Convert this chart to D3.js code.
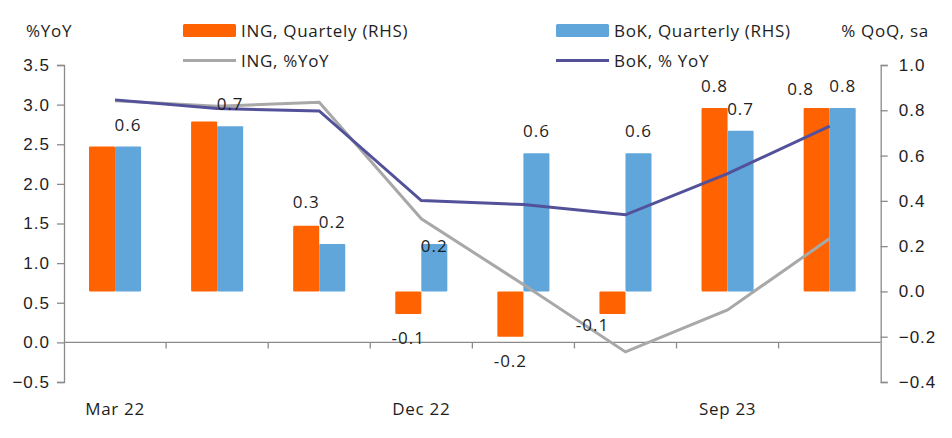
<!DOCTYPE html>
<html>
<head>
<meta charset="utf-8">
<script src="https://cdn.jsdelivr.net/npm/d3@7"></script>
<style>
  body { margin: 0; background: #fff; }
  svg { display: block; font-family: "Open Sans", sans-serif; }
</style>
</head>
<body>
<div id="chart"></div>
<script>
  // quarters, only every third one gets a label
  const quarters = ['Mar 22', 'Jun 22', 'Sep 22', 'Dec 22', 'Mar 23', 'Jun 23', 'Sep 23', 'Dec 23'];
  const shownQuarters = ['Mar 22', 'Dec 22', 'Sep 23'];

  // % QoQ sa (right axis)
  const ingQoQ = [0.64, 0.75, 0.29, -0.10, -0.20, -0.10, 0.81, 0.81];
  const bokQoQ = [0.64, 0.73, 0.21, 0.21, 0.61, 0.61, 0.71, 0.81];

  // % YoY (left axis)
  const ingYoY = [3.05, 2.98, 3.03, 1.56, 0.73, -0.12, 0.41, 1.31];
  const bokYoY = [3.06, 2.95, 2.92, 1.79, 1.74, 1.61, 2.13, 2.73];

  const leftTicks = [-0.5, 0, 0.5, 1.0, 1.5, 2.0, 2.5, 3.0, 3.5];
  const rightTicks = [-0.4, -0.2, 0, 0.2, 0.4, 0.6, 0.8, 1.0];

  // data labels kept on the chart (series, quarter index, text)
  const labelSeries = ['BoK', 'BoK', 'ING', 'BoK', 'ING', 'BoK', 'ING', 'BoK', 'ING', 'BoK', 'ING', 'BoK', 'ING', 'BoK'];
  const labelIndex  = [0, 1, 2, 2, 3, 3, 4, 4, 5, 5, 6, 6, 7, 7];
  const labelText   = ['0.6', '0.7', '0.3', '0.2', '-0.1', '0.2', '-0.2', '0.6', '-0.1', '0.6', '0.8', '0.7', '0.8', '0.8'];

  const width = 952
      , height = 438
      , margin = { top: 65, right: 72, bottom: 56, left: 64 }
      , orange = '#ff6200'
      , blue = '#60a6da'
      , purple = '#52519a'
      , grey = '#a8a8a8'
      , axisColor = '#8a8a8a'
      , textColor = '#1e1e1e'
      , fontSize = '17px'
      , spacing = '0.7px'
      ;

  const svg = d3.select('#chart')
    .append('svg')
    .attr('width', width)
    .attr('height', height);

  const x = d3.scaleBand()
    .domain(quarters)
    .range([margin.left, width - margin.right + 0.7])
    .paddingInner(0.49)
    .paddingOuter(0.245);

  const xSeries = d3.scaleBand()
    .domain(['ING', 'BoK'])
    .range([0, x.bandwidth()]);

  const yL = d3.scaleLinear().domain([-0.5, 3.5]).range([height - margin.bottom, margin.top]);
  const yR = d3.scaleLinear().domain([-0.4, 1.0]).range([height - margin.bottom, margin.top]);

  const rightX = width - margin.right + 0.7;

  // bars
  const barData = [];
  quarters.forEach((q, i) => {
    barData.push({ q, s: 'ING', v: ingQoQ[i] });
    barData.push({ q, s: 'BoK', v: bokQoQ[i] });
  });

  svg.append('g')
    .selectAll('rect')
    .data(barData)
    .join('rect')
      .attr('x', d => x(d.q) + xSeries(d.s))
      .attr('width', xSeries.bandwidth())
      .attr('y', d => yR(Math.max(0, d.v)))
      .attr('height', d => Math.abs(yR(d.v) - yR(0)))
      .attr('rx', 1)
      .attr('fill', d => d.s === 'ING' ? orange : blue);

  // axes
  const leftAxis = svg.append('g')
    .attr('transform', `translate(${margin.left},0)`)
    .call(d3.axisLeft(yL).tickValues(leftTicks).tickFormat(d3.format('.1f')).tickSize(7).tickPadding(7));

  const rightAxis = svg.append('g')
    .attr('transform', `translate(${rightX},0)`)
    .call(d3.axisRight(yR).tickValues(rightTicks).tickFormat(d3.format('.1f')).tickSize(7).tickPadding(11));

  [leftAxis, rightAxis].forEach(g => {
    g.select('.domain').attr('stroke', axisColor).attr('stroke-width', 1.3);
    g.selectAll('.tick line').attr('stroke', axisColor).attr('stroke-width', 1.3);
    g.selectAll('.tick text')
      .attr('fill', textColor)
      .style('font-size', fontSize)
      .style('letter-spacing', '1px');
  });

  // category axis sits on the left zero line
  const xAxisY = yL(0);
  svg.append('line')
    .attr('x1', margin.left).attr('x2', rightX)
    .attr('y1', xAxisY).attr('y2', xAxisY)
    .attr('stroke', axisColor).attr('stroke-width', 1.3);

  svg.append('g')
    .selectAll('line')
    .data(quarters.slice(1))
    .join('line')
      .attr('x1', d => x(d) - x.step() * x.paddingInner() / 2)
      .attr('x2', d => x(d) - x.step() * x.paddingInner() / 2)
      .attr('y1', xAxisY)
      .attr('y2', xAxisY + 6)
      .attr('stroke', axisColor).attr('stroke-width', 1.3);

  svg.append('g')
    .selectAll('text')
    .data(shownQuarters)
    .join('text')
      .attr('x', d => x(d) + x.bandwidth() / 2)
      .attr('y', 415)
      .attr('text-anchor', 'middle')
      .attr('fill', textColor)
      .style('font-size', fontSize)
      .style('letter-spacing', spacing)
      .text(d => d);

  // lines
  const lineL = d3.line()
    .x((d, i) => x(quarters[i]) + x.bandwidth() / 2)
    .y(d => yL(d));

  svg.append('path')
    .datum(ingYoY)
    .attr('d', lineL)
    .attr('fill', 'none')
    .attr('stroke', grey)
    .attr('stroke-width', 3);

  svg.append('path')
    .datum(bokYoY)
    .attr('d', lineL)
    .attr('fill', 'none')
    .attr('stroke', purple)
    .attr('stroke-width', 3);

  // data labels, a few were nudged by hand in the original
  const nudge = {
    '2-ING': [0, -2],
    '3-BoK': [0, 24],
    '5-ING': [-20, -13],
    '7-ING': [-16, 3]
  };

  svg.append('g')
    .selectAll('text')
    .data(labelText.map((t, k) => ({ t, s: labelSeries[k], i: labelIndex[k] })))
    .join('text')
      .attr('x', d => {
        const n = nudge[`${d.i}-${d.s}`] || [0, 0];
        return x(quarters[d.i]) + xSeries(d.s) + xSeries.bandwidth() / 2 + n[0];
      })
      .attr('y', d => {
        const n = nudge[`${d.i}-${d.s}`] || [0, 0];
        const v = (d.s === 'ING' ? ingQoQ : bokQoQ)[d.i];
        return (v >= 0 ? yR(v) - 16 : yR(v) + 30) + n[1];
      })
      .attr('text-anchor', 'middle')
      .attr('fill', textColor)
      .style('font-size', fontSize)
      .style('letter-spacing', '1px')
      .text(d => d.t);

  // axis titles
  svg.append('text')
    .attr('x', 26).attr('y', 37)
    .attr('fill', textColor)
    .style('font-size', fontSize)
    .style('letter-spacing', spacing)
    .text('%YoY');

  svg.append('text')
    .attr('x', 929).attr('y', 37)
    .attr('text-anchor', 'end')
    .attr('fill', textColor)
    .style('font-size', fontSize)
    .style('letter-spacing', spacing)
    .text('% QoQ, sa');

  // legend
  const legend = svg.append('g')
    .style('font-size', fontSize)
    .style('letter-spacing', spacing);
  const legendItems = [
    { name: 'ING, Quartely (RHS)', type: 'bar', color: orange, lx: 183, ly: 31 },
    { name: 'ING, %YoY', type: 'line', color: grey, lx: 183, ly: 60.5 },
    { name: 'BoK, Quarterly (RHS)', type: 'bar', color: blue, lx: 556, ly: 31 },
    { name: 'BoK, % YoY', type: 'line', color: purple, lx: 556, ly: 60.5 }
  ];

  legendItems.forEach(d => {
    if (d.type === 'bar') {
      legend.append('rect')
        .attr('x', d.lx).attr('y', d.ly - 7)
        .attr('width', 53).attr('height', 13)
        .attr('rx', 1.5)
        .attr('fill', d.color);
    } else {
      legend.append('line')
        .attr('x1', d.lx).attr('x2', d.lx + 53)
        .attr('y1', d.ly).attr('y2', d.ly)
        .attr('stroke', d.color)
        .attr('stroke-width', 3);
    }
    legend.append('text')
      .attr('x', d.lx + 58)
      .attr('y', d.ly + 6)
      .attr('fill', textColor)
      .text(d.name);
  });
</script>
</body>
</html>
